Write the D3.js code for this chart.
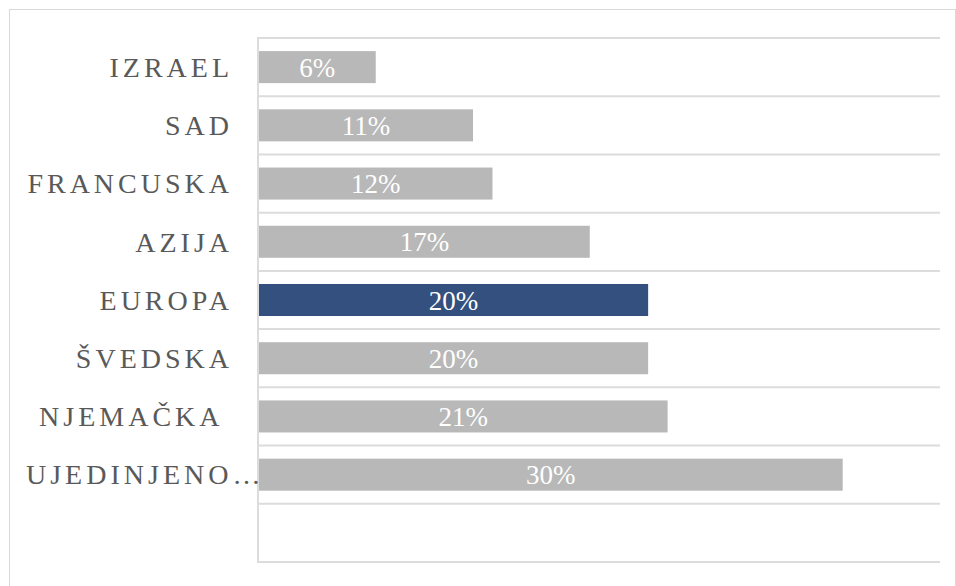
<!doctype html>
<html>
  <head>
    <meta charset="utf-8">
    <title>Udio</title>
    <script src="https://cdn.jsdelivr.net/npm/d3@7"></script>
    <style>
      body { margin: 0; background: #fff; }
    </style>
  </head>
  <body>
    <script>
      // podaci (zadnji red je prazan, kao u izvorniku)
      const categories = ['IZRAEL', 'SAD', 'FRANCUSKA', 'AZIJA', 'EUROPA', 'ŠVEDSKA', 'NJEMAČKA ', 'UJEDINJENO…', ''];
      const values = [0.06, 0.11, 0.12, 0.17, 0.20, 0.20, 0.21, 0.30, null];
      const highlighted = ['EUROPA'];
      const xDomain = [0, 0.35];

      const width = 956;
      const height = 586;
      const plot = { left: 258, right: 940, top: 38, bottom: 562 };

      const svg = d3.select('body').append('svg')
          .attr('width', width)
          .attr('height', height);

      // okvir
      svg.append('rect')
          .attr('x', 9.5)
          .attr('y', 9.5)
          .attr('width', 946)
          .attr('height', 600)
          .attr('fill', 'none')
          .attr('stroke', '#d9d9d9');

      const x = d3.scaleLinear()
          .domain(xDomain)
          .range([plot.left + 1, plot.right]);

      const y = d3.scaleBand()
          .domain(categories.map((d, i) => i))
          .range([plot.top, plot.bottom])
          .paddingInner(0.45)
          .paddingOuter(0.225);

      const step = y.step();
      const y0 = y(0) - y.paddingOuter() * step;

      // horizontalne linije
      svg.append('g')
        .selectAll('line')
        .data(d3.range(categories.length + 1))
        .join('line')
          .attr('x1', plot.left)
          .attr('x2', plot.right)
          .attr('y1', d => y0 + d * step)
          .attr('y2', d => y0 + d * step)
          .attr('stroke', '#dcdcdc')
          .attr('stroke-width', 2);

      // os
      svg.append('line')
          .attr('x1', plot.left)
          .attr('x2', plot.left)
          .attr('y1', plot.top - 1)
          .attr('y2', plot.bottom + 1)
          .attr('stroke', '#dcdcdc')
          .attr('stroke-width', 2);

      const rows = categories.map((c, i) => ({ name: c, value: values[i], i }));

      // stupci
      svg.append('g')
        .selectAll('rect')
        .data(rows.filter(d => d.value != null))
        .join('rect')
          .attr('x', x(0))
          .attr('y', d => y(d.i))
          .attr('width', d => x(d.value) - x(0))
          .attr('height', y.bandwidth())
          .attr('fill', d => highlighted.includes(d.name) ? '#34507e' : '#b8b8b8');

      // vrijednosti
      svg.append('g')
        .selectAll('text')
        .data(rows.filter(d => d.value != null))
        .join('text')
          .attr('x', d => (x(0) + x(d.value)) / 2)
          .attr('y', d => y(d.i) + y.bandwidth() / 2)
          .attr('dy', '0.36em')
          .attr('text-anchor', 'middle')
          .attr('font-family', '"Liberation Serif", "Times New Roman", serif')
          .attr('font-size', 27)
          .attr('fill', '#ffffff')
          .text(d => d3.format('.0%')(d.value));

      // kategorije
      const labelRight = 233;
      const labelLeft = 26;
      svg.append('g')
        .selectAll('text')
        .data(rows)
        .join('text')
          .attr('y', d => y(d.i) + y.bandwidth() / 2)
          .attr('dy', '0.35em')
          .attr('font-family', '"Liberation Serif", "Times New Roman", serif')
          .attr('font-size', 28)
          .attr('letter-spacing', 4)
          .attr('fill', '#595959')
          .style('white-space', 'pre')
          .text(d => d.name)
          .each(function () {
            const t = d3.select(this);
            const w = this.getComputedTextLength();
            if (w > labelRight - labelLeft) {
              t.attr('x', labelLeft).attr('text-anchor', 'start');
            } else {
              t.attr('x', labelRight - w);
            }
          });
    </script>
  </body>
</html>
